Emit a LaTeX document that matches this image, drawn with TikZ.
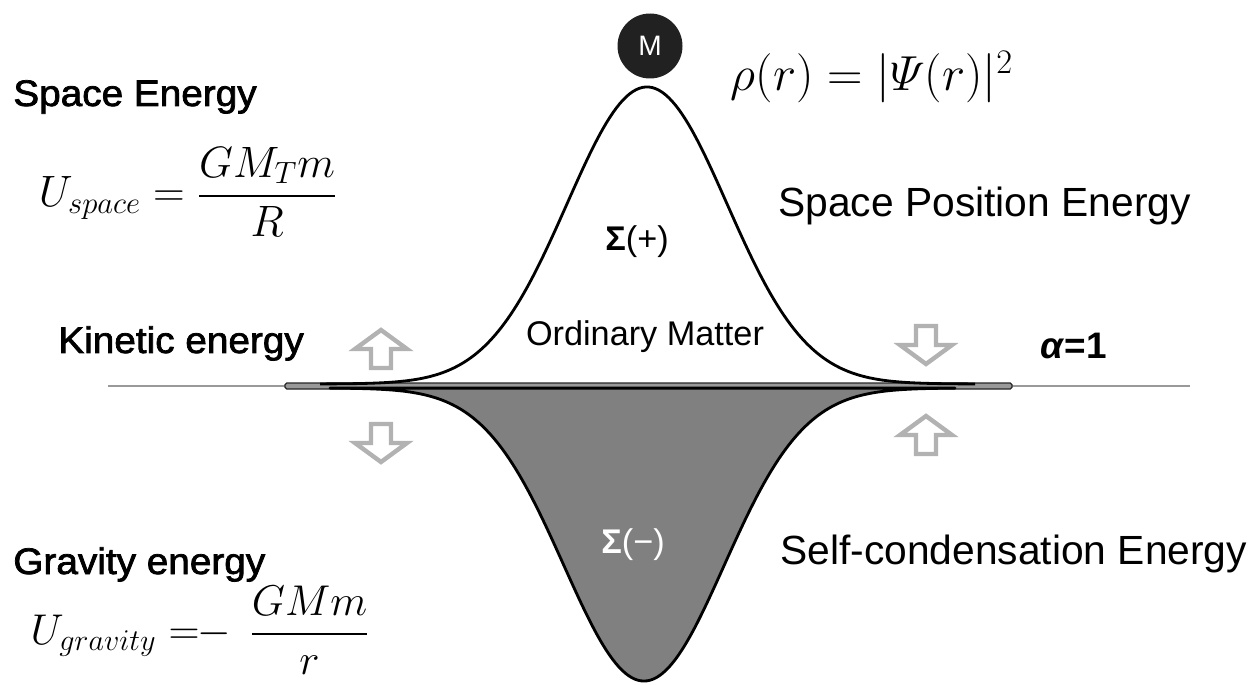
\documentclass[tikz,border=0pt]{standalone}
\usepackage{fix-cm}
\usepackage{amsmath}
\usepackage[no-math]{fontspec}
\setmainfont{Liberation Sans}
\newfontfamily\leftfont[FakeBold=2,FakeStretch=1.05]{Liberation Sans}
\usetikzlibrary{positioning}

\begin{document}
\begin{tikzpicture}[x=0.02cm, y=-0.02cm,
    blockarrow/.pic={\draw[hollow] (0,0) -- (26,19) -- (10,19) -- (10,38) -- (-10,38) -- (-10,19) -- (-26,19) -- cycle;}]
    \tikzstyle{leftlabel} = [font=\leftfont\fontsize{21}{25}\selectfont, anchor=base west, inner sep=0pt]
    \tikzstyle{rightlabel} = [font=\fontsize{23.2}{27}\selectfont, anchor=base west, inner sep=0pt]
    \tikzstyle{inlabel} = [font=\fontsize{19.5}{23}\selectfont, inner sep=0pt]
    \tikzstyle{formula} = [inner sep=0pt]
    \tikzstyle{curve} = [line width=1.6pt, line join=round]
    \tikzstyle{hollow} = [draw=gray!60, fill=white, line width=2.5pt]

    \useasboundingbox (0,0) rectangle (1256,685);

    % axis and bar
    \draw[gray!80, line width=0.8pt] (108,386) -- (1190,386);
    \filldraw[fill=gray!80, draw=black!85, line width=0.7pt, rounded corners=1pt] (285,383) rectangle (1012,389);

    % lobes
    \filldraw[curve, fill=gray] plot[domain=330:955, samples=200] (\x, {388+293*exp(-0.5*((\x-644)/80)*((\x-644)/80))}) -- cycle;
    \draw[curve] plot[domain=320:975, samples=200] (\x, {384-297*exp(-0.5*((\x-647)/80)*((\x-647)/80))});

    % hollow arrows
    \pic at (381,330) {blockarrow};
    \pic[rotate=180] at (381,462) {blockarrow};
    \pic[rotate=180] at (926,364) {blockarrow};
    \pic at (926,416) {blockarrow};

    \node (spaceE) [leftlabel] at (13,106) {Space Energy};
    \node (uspace) [formula, font=\fontsize{25}{29}\selectfont] at (188,192) {$\displaystyle U_{space}=\frac{GM_Tm}{R}$};
    \node (kinetic) [leftlabel] at (58,353) {Kinetic energy};
    \node (gravE) [leftlabel] at (13,574) {Gravity energy};
    \node (ugrav) [formula, font=\fontsize{24.5}{28}\selectfont] at (200,630) {$\displaystyle U_{gravity}\mathrel{=\!\!-}\,\frac{GMm}{r}$};

    \node (mass) [circle, fill=black!87, text=white, minimum size=1.3cm, inner sep=0pt, font=\fontsize{16}{18}\selectfont] at (650,46) {M};
    \node (rho) [formula, font=\fontsize{28}{32}\selectfont] at (872,77) {$\rho(r)=|\varPsi(r)|^2$};

    \node (splus) [inlabel] at (637,242) {\textbf{Σ}(+)};
    \node (ordinary) [inlabel] at (645,337) {Ordinary Matter};
    \node (sminus) [inlabel, text=white] at (633,545) {\textbf{Σ}(−)};
    \node (alpha) [font=\bfseries\fontsize{21}{25}\selectfont, anchor=base west, inner sep=0pt] at (1040,358) {\textit{α}=1};
    \node (spacepos) [rightlabel] at (778,217) {Space Position Energy};
    \node (selfcond) [rightlabel] at (780,564) {Self-condensation Energy};
\end{tikzpicture}
\end{document}
